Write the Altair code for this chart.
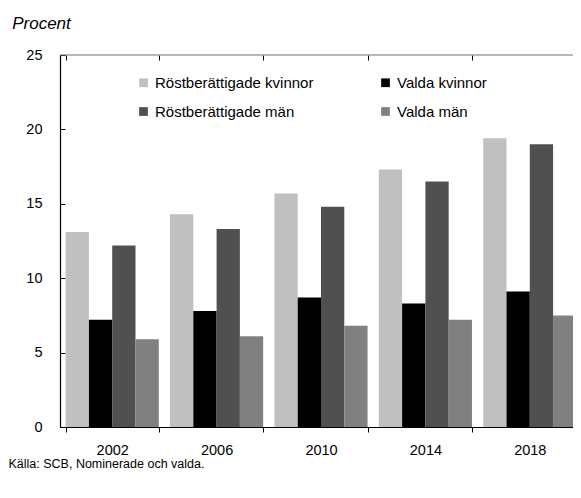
import altair as alt
import pandas as pd

years = ["2002", "2006", "2010", "2014", "2018"]
series = ["Röstberättigade kvinnor", "Valda kvinnor", "Röstberättigade män", "Valda män"]
rost_kvinnor = [13.1, 14.3, 15.7, 17.3, 19.4]
valda_kvinnor = [7.2, 7.8, 8.7, 8.3, 9.1]
rost_man = [12.2, 13.3, 14.8, 16.5, 19.0]
valda_man = [5.9, 6.1, 6.8, 7.2, 7.5]
colors = ["#c0c0c0", "#000000", "#505050", "#808080"]
y_ticks = [0, 5, 10, 15, 20, 25]
y_top = 25

rows = []
for s, vals in zip(series, [rost_kvinnor, valda_kvinnor, rost_man, valda_man]):
    for yr, v in zip(years, vals):
        rows.append({"year": yr, "serie": s, "value": v})
df = pd.DataFrame(rows)

FONT = "Liberation Sans, Arial, sans-serif"

bars = alt.Chart(df).mark_bar().encode(
    x=alt.X(
        "year:N",
        sort=years,
        scale=alt.Scale(paddingInner=0.108, paddingOuter=0.054, range=[0, 522]),
        axis=alt.Axis(
            title="Källa: SCB, Nominerade och valda.",
            titleX=-52,
            titleY=40,
            titleAlign="left",
            titleAnchor="start",
            titleBaseline="alphabetic",
            titleFont=FONT,
            titleFontSize=12.5,
            titleFontWeight="normal",
            titleColor="#000000",
            labelFont=FONT,
            labelFontSize=14.5,
            labelColor="#000000",
            labelAngle=0,
            labelPadding=11,
            domain=True,
            domainColor="#000000",
            domainWidth=1.2,
            ticks=True,
            tickBand="extent",
            tickSize=5,
            tickColor="#000000",
            grid=True,
            gridColor="#000000",
            gridDash=[5, 2000],
        ),
    ),
    xOffset=alt.XOffset("serie:N", sort=series, scale=alt.Scale(paddingInner=0, paddingOuter=0)),
    y=alt.Y(
        "value:Q",
        scale=alt.Scale(domain=[0, 25], nice=False),
        axis=alt.Axis(
            values=y_ticks,
            title="Procent",
            titleAngle=0,
            titleX=-48.3,
            titleY=-27,
            titleAlign="left",
            titleAnchor="start",
            titleBaseline="alphabetic",
            titleFont=FONT,
            titleFontStyle="italic",
            titleFontWeight="normal",
            titleFontSize=17,
            titleColor="#000000",
            labelFont=FONT,
            labelFontSize=14.5,
            labelColor="#000000",
            labelPadding=18,
            domain=True,
            domainColor="#000000",
            domainWidth=1.2,
            ticks=False,
            grid=True,
            gridColor="#000000",
            gridDash=[5, 2000],
        ),
    ),
    color=alt.Color(
        "serie:N",
        sort=series,
        scale=alt.Scale(domain=series, range=colors),
        legend=alt.Legend(
            title=None,
            orient="none",
            direction="horizontal",
            legendX=76,
            legendY=20,
            columns=2,
            columnPadding=64,
            rowPadding=13,
            symbolType="square",
            symbolSize=76,
            symbolStrokeWidth=0,
            labelFont=FONT,
            labelFontSize=15,
            labelColor="#000000",
            labelOffset=4,
            labelLimit=300,
            padding=0,
        ),
    ),
)

top_line = alt.Chart(pd.DataFrame({"top": [y_top]})).mark_rule(
    color="#707070", strokeWidth=1.2
).encode(y=alt.Y("top:Q"))

chart = alt.layer(bars, top_line).properties(
    width=513,
    height=372,
    autosize=alt.AutoSizeParams(type="none"),
    padding={"left": 52, "top": 47, "right": 0, "bottom": 60},
).configure_view(
    stroke=None,
)

chart.save("out.html", embed_options={"renderer": "svg", "actions": False})
